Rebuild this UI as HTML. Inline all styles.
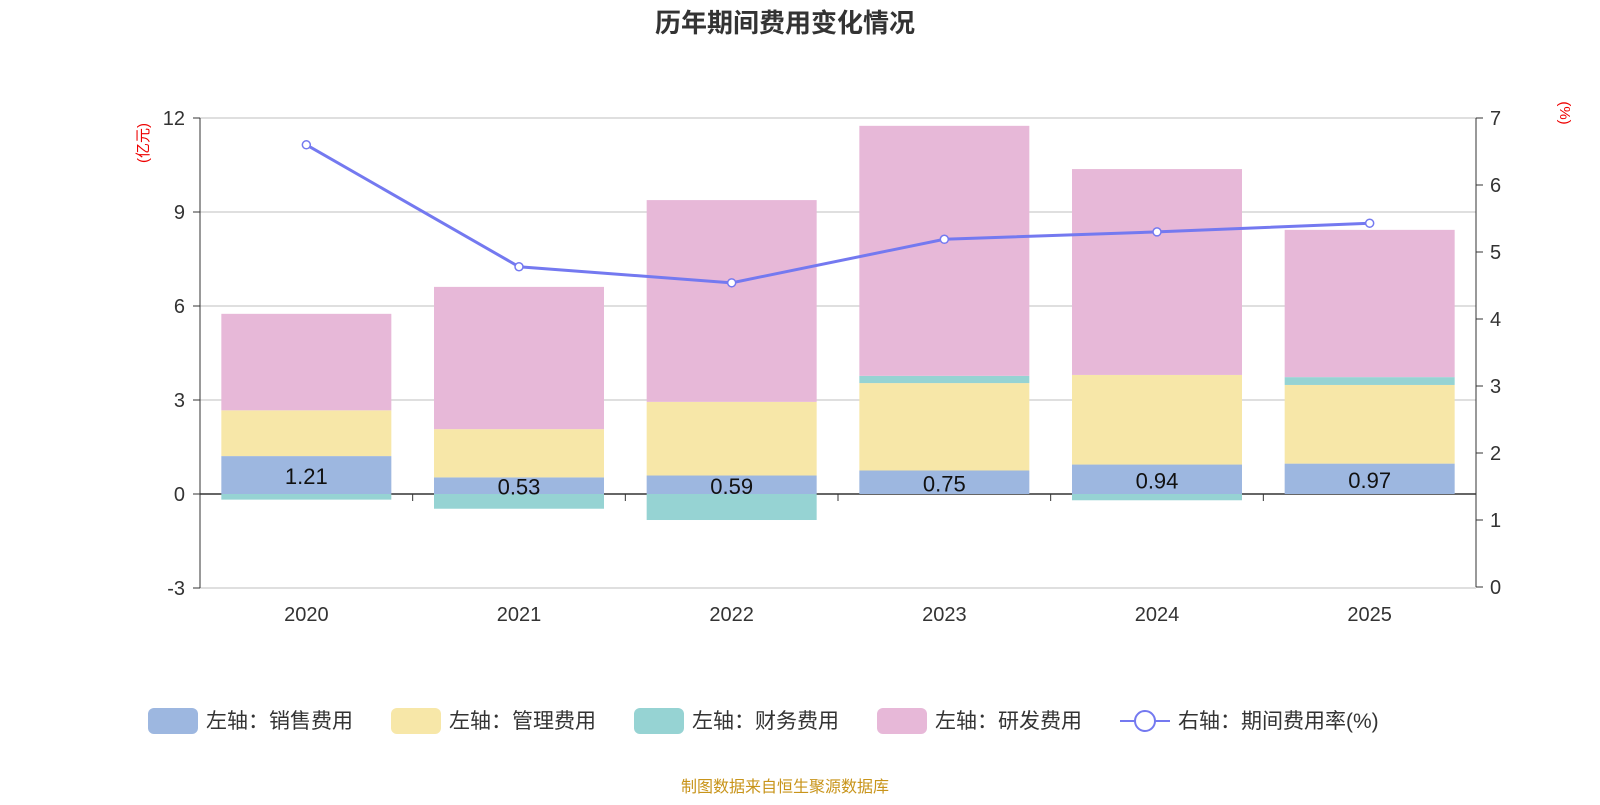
<!DOCTYPE html>
<html><head><meta charset="utf-8">
<style>
body{margin:0;background:#fff;font-family:"Liberation Sans","Noto Sans CJK SC",sans-serif;}
svg text{font-family:"Liberation Sans","Noto Sans CJK SC",sans-serif;}
</style></head>
<body>
<svg id="c" width="1600" height="800" xmlns="http://www.w3.org/2000/svg">
<text x="785" y="32" text-anchor="middle" font-size="26" font-weight="bold" fill="#333">历年期间费用变化情况</text>
<text transform="translate(148,143) rotate(-90)" text-anchor="middle" font-size="15" fill="#e00">(亿元)</text>
<text transform="translate(1560,113) rotate(90)" text-anchor="middle" font-size="15" fill="#e00">(%)</text>
<g id="grid"></g><g id="bars"></g><g id="axes"></g><g id="line"></g>
<g id="legend"></g>
<text x="785" y="792" text-anchor="middle" font-size="16" fill="#c8941a">制图数据来自恒生聚源数据库</text>
</svg>
<script>
const categories=["2020","2021","2022","2023","2024","2025"];
const sales=[1.21,0.53,0.59,0.75,0.94,0.97];
const mgmt=[1.46,1.54,2.35,2.79,2.86,2.51];
const finance=[-0.18,-0.47,-0.83,0.23,-0.2,0.25];
const rnd=[3.08,4.54,6.44,7.98,6.57,4.70];
const rate=[6.6,4.78,4.54,5.19,5.30,5.43];
const leftTicks=[-3,0,3,6,9,12];
const rightTicks=[0,1,2,3,4,5,6,7];
const NS="http://www.w3.org/2000/svg";
const x0=200,x1=1476,band=(x1-x0)/categories.length,bw=170;
const yL=v=>494-(v)*(470/15);
const yR=v=>587-v*(469/7);
const xc=i=>x0+band*(i+0.5);
function mk(p,tag,at,txt){const e=document.createElementNS(NS,tag);for(const k in at)e.setAttribute(k,at[k]);if(txt!==undefined)e.textContent=txt;document.getElementById(p).appendChild(e);return e;}
leftTicks.forEach(t=>{
 const g=mk("grid","line",{x1:x0,x2:x1,y1:yL(t),y2:yL(t),stroke:t===0?"#333":"#ccc","stroke-width":t===0?1.5:1.2});
 
 
 const l=mk("axes","text",{x:185,y:yL(t)+7,"text-anchor":"end","font-size":20,fill:"#333"},t);
 
 
});
rightTicks.forEach(t=>{
 const k=mk("axes","line",{x1:x1,x2:x1+7,y1:yR(t),y2:yR(t),stroke:"#333"});
 
 
 const l=mk("axes","text",{x:1490,y:yR(t)+7,"font-size":20,fill:"#333"},t);
 
 
});
leftTicks.forEach(t=>{const k=mk("axes","line",{x1:x0-7,x2:x0,y1:yL(t),y2:yL(t),stroke:"#333"});});
let a=mk("axes","line",{x1:x0,x2:x0,y1:yL(12),y2:yL(-3),stroke:"#333"});

a=mk("axes","line",{x1:x1,x2:x1,y1:yR(7),y2:yR(0),stroke:"#333"});

for(let i=0;i<=categories.length;i++){const k=mk("axes","line",{x1:x0+band*i,x2:x0+band*i,y1:494,y2:501,stroke:"#333"});}
categories.forEach((c,i)=>{const l=mk("axes","text",{x:xc(i),y:621,"text-anchor":"middle","font-size":20,fill:"#333"},c);});
const series=[["sales",sales,"#9db7e0"],["mgmt",mgmt,"#f7e7a8"],["finance",finance,"#96d3d3"],["rnd",rnd,"#e7b8d8"]];
categories.forEach((c,i)=>{
 let pos=0,neg=0;
 series.forEach(([n,arr,col])=>{
  const v=arr[i];let a,b;
  if(v>=0){a=pos;b=pos+v;pos=b;}else{a=neg;b=neg+v;neg=b;}
  const r=mk("bars","rect",{x:xc(i)-bw/2,y:Math.min(yL(a),yL(b)),width:bw,height:Math.abs(yL(a)-yL(b)),fill:col});
  
  
 });
 const t=mk("bars","text",{x:xc(i),y:yL(sales[i]/2)+9,"text-anchor":"middle","font-size":22,fill:"#111"},sales[i].toFixed(2));
 
 
});
const pl=mk("line","polyline",{points:rate.map((v,i)=>xc(i)+","+yR(v)).join(" "),fill:"none",stroke:"#7479f0","stroke-width":3});


rate.forEach((v,i)=>{const p=mk("line","circle",{cx:xc(i),cy:yR(v),r:4,fill:"#fff",stroke:"#7479f0","stroke-width":1.5});});
const leg=[["左轴：销售费用","#9db7e0",148],["左轴：管理费用","#f7e7a8",391],["左轴：财务费用","#96d3d3",634],["左轴：研发费用","#e7b8d8",877]];
leg.forEach(([t,col,x])=>{
 const r=mk("legend","rect",{x:x,y:708,width:50,height:26,rx:6,fill:col});
 
 const l=mk("legend","text",{x:x+58,y:728,"font-size":21,fill:"#333"},t);
 
});
let ll=mk("legend","line",{x1:1120,x2:1170,y1:721,y2:721,stroke:"#7479f0","stroke-width":2});

ll=mk("legend","circle",{cx:1145,cy:721,r:10,fill:"#fff",stroke:"#7479f0","stroke-width":2});

ll=mk("legend","text",{x:1178,y:728,"font-size":21,fill:"#333"},"右轴：期间费用率(%)");

</script>
</body></html>
